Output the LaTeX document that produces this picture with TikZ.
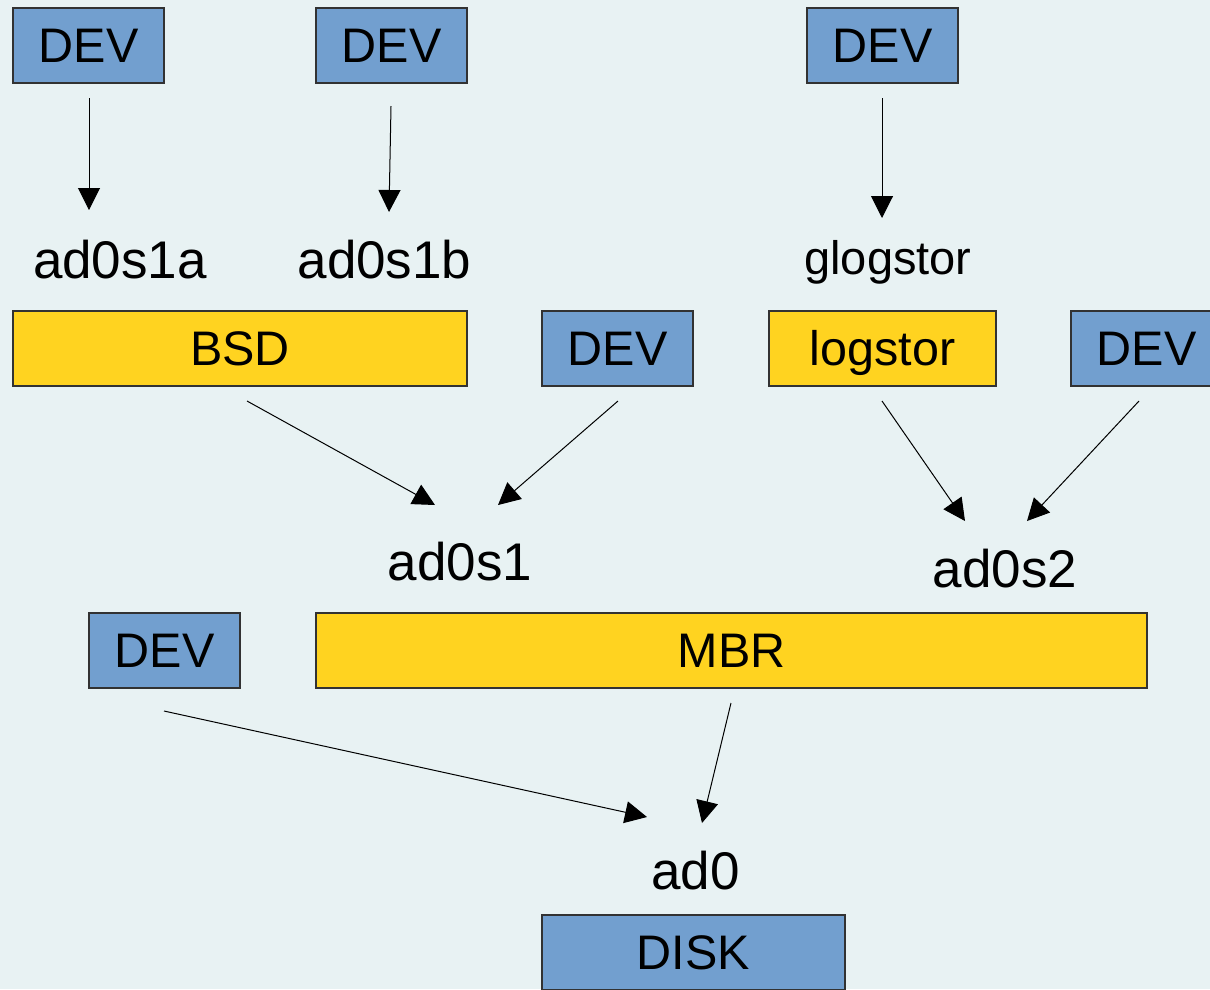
\documentclass[tikz,border=0pt]{standalone}
\usepackage{fontspec}
\setmainfont{Liberation Sans}
\usetikzlibrary{arrows.meta}
\definecolor{bg}{RGB}{232,242,243}
\definecolor{devblue}{RGB}{114,159,207}
\definecolor{mbryellow}{RGB}{255,211,32}
\definecolor{edge}{RGB}{50,50,50}
\tikzset{
  box/.style={draw=edge, line width=1.1pt, inner sep=0pt, anchor=center,
    font=\fontsize{48.5}{50}\selectfont, text height=34.7pt, text depth=0pt},
  devbox/.style={box, fill=devblue, minimum width=151pt, minimum height=75pt},
  ybox/.style={box, fill=mbryellow, minimum height=75pt},
  lbl/.style={inner sep=0pt, anchor=base, font=\fontsize{53}{56}\selectfont},
  slbl/.style={inner sep=0pt, anchor=base, font=\fontsize{47}{50}\selectfont},
  arr/.style={line width=1pt, -{Triangle[length=22pt,width=22pt]}}
}
\begin{document}
\begin{tikzpicture}[x=1pt,y=-1pt]
\useasboundingbox (0,0) rectangle (1210,989);
\fill[bg] (0,0) rectangle (1210,989);
\begin{scope}
\clip (0,0) rectangle (1210,989);
% top DEV boxes
\node[devbox] (dev1) at (88.5,45.5) {DEV};
\node[devbox] (dev2) at (391.5,45.5) {DEV};
\node[devbox] (dev3) at (882.5,45.5) {DEV};
% labels
\node[lbl] (ad0s1a) at (120,278) {ad0s1a};
\node[lbl] (ad0s1b) at (384.5,278) {ad0s1b};
\node[slbl] (glogstor) at (888,274) {glogstor};
% middle row
\node[ybox, minimum width=454pt] (bsd) at (240,348.5) {BSD};
\node[devbox] (dev4) at (617.5,348.5) {DEV};
\node[ybox, minimum width=227pt] (logstor) at (882.5,348.5) {logstor};
\node[devbox] (dev5) at (1146.5,348.5) {DEV};
% slices
\node[lbl] (ad0s1) at (460,580) {ad0s1};
\node[lbl] (ad0s2) at (1005,587) {ad0s2};
% MBR row
\node[devbox] (dev6) at (164.5,650.5) {DEV};
\node[ybox, minimum width=831pt] (mbr) at (731.5,650.5) {MBR};
% disk
\node[lbl] (ad0) at (695.5,889) {ad0};
\node[devbox, minimum width=303pt] (disk) at (693.5,952.5) {DISK};
\end{scope}
% connector end points
\coordinate (s1) at (89,98);   \coordinate (e1) at (89,210);
\coordinate (s2) at (391,106); \coordinate (e2) at (389,212);
\coordinate (s3) at (882,98);  \coordinate (e3) at (882,218);
\coordinate (s4) at (247,401); \coordinate (e4) at (435,505);
\coordinate (s5) at (618,401); \coordinate (e5) at (498,505);
\coordinate (s6) at (882,401); \coordinate (e6) at (965,521);
\coordinate (s7) at (1139,401);\coordinate (e7) at (1027,521);
\coordinate (s8) at (164,711); \coordinate (e8) at (647,817);
\coordinate (s9) at (731,703); \coordinate (e9) at (702,823);
\draw[arr] (s1) -- (e1);
\draw[arr] (s2) -- (e2);
\draw[arr] (s3) -- (e3);
\draw[arr] (s4) -- (e4);
\draw[arr] (s5) -- (e5);
\draw[arr] (s6) -- (e6);
\draw[arr] (s7) -- (e7);
\draw[arr] (s8) -- (e8);
\draw[arr] (s9) -- (e9);
\end{tikzpicture}
\end{document}
